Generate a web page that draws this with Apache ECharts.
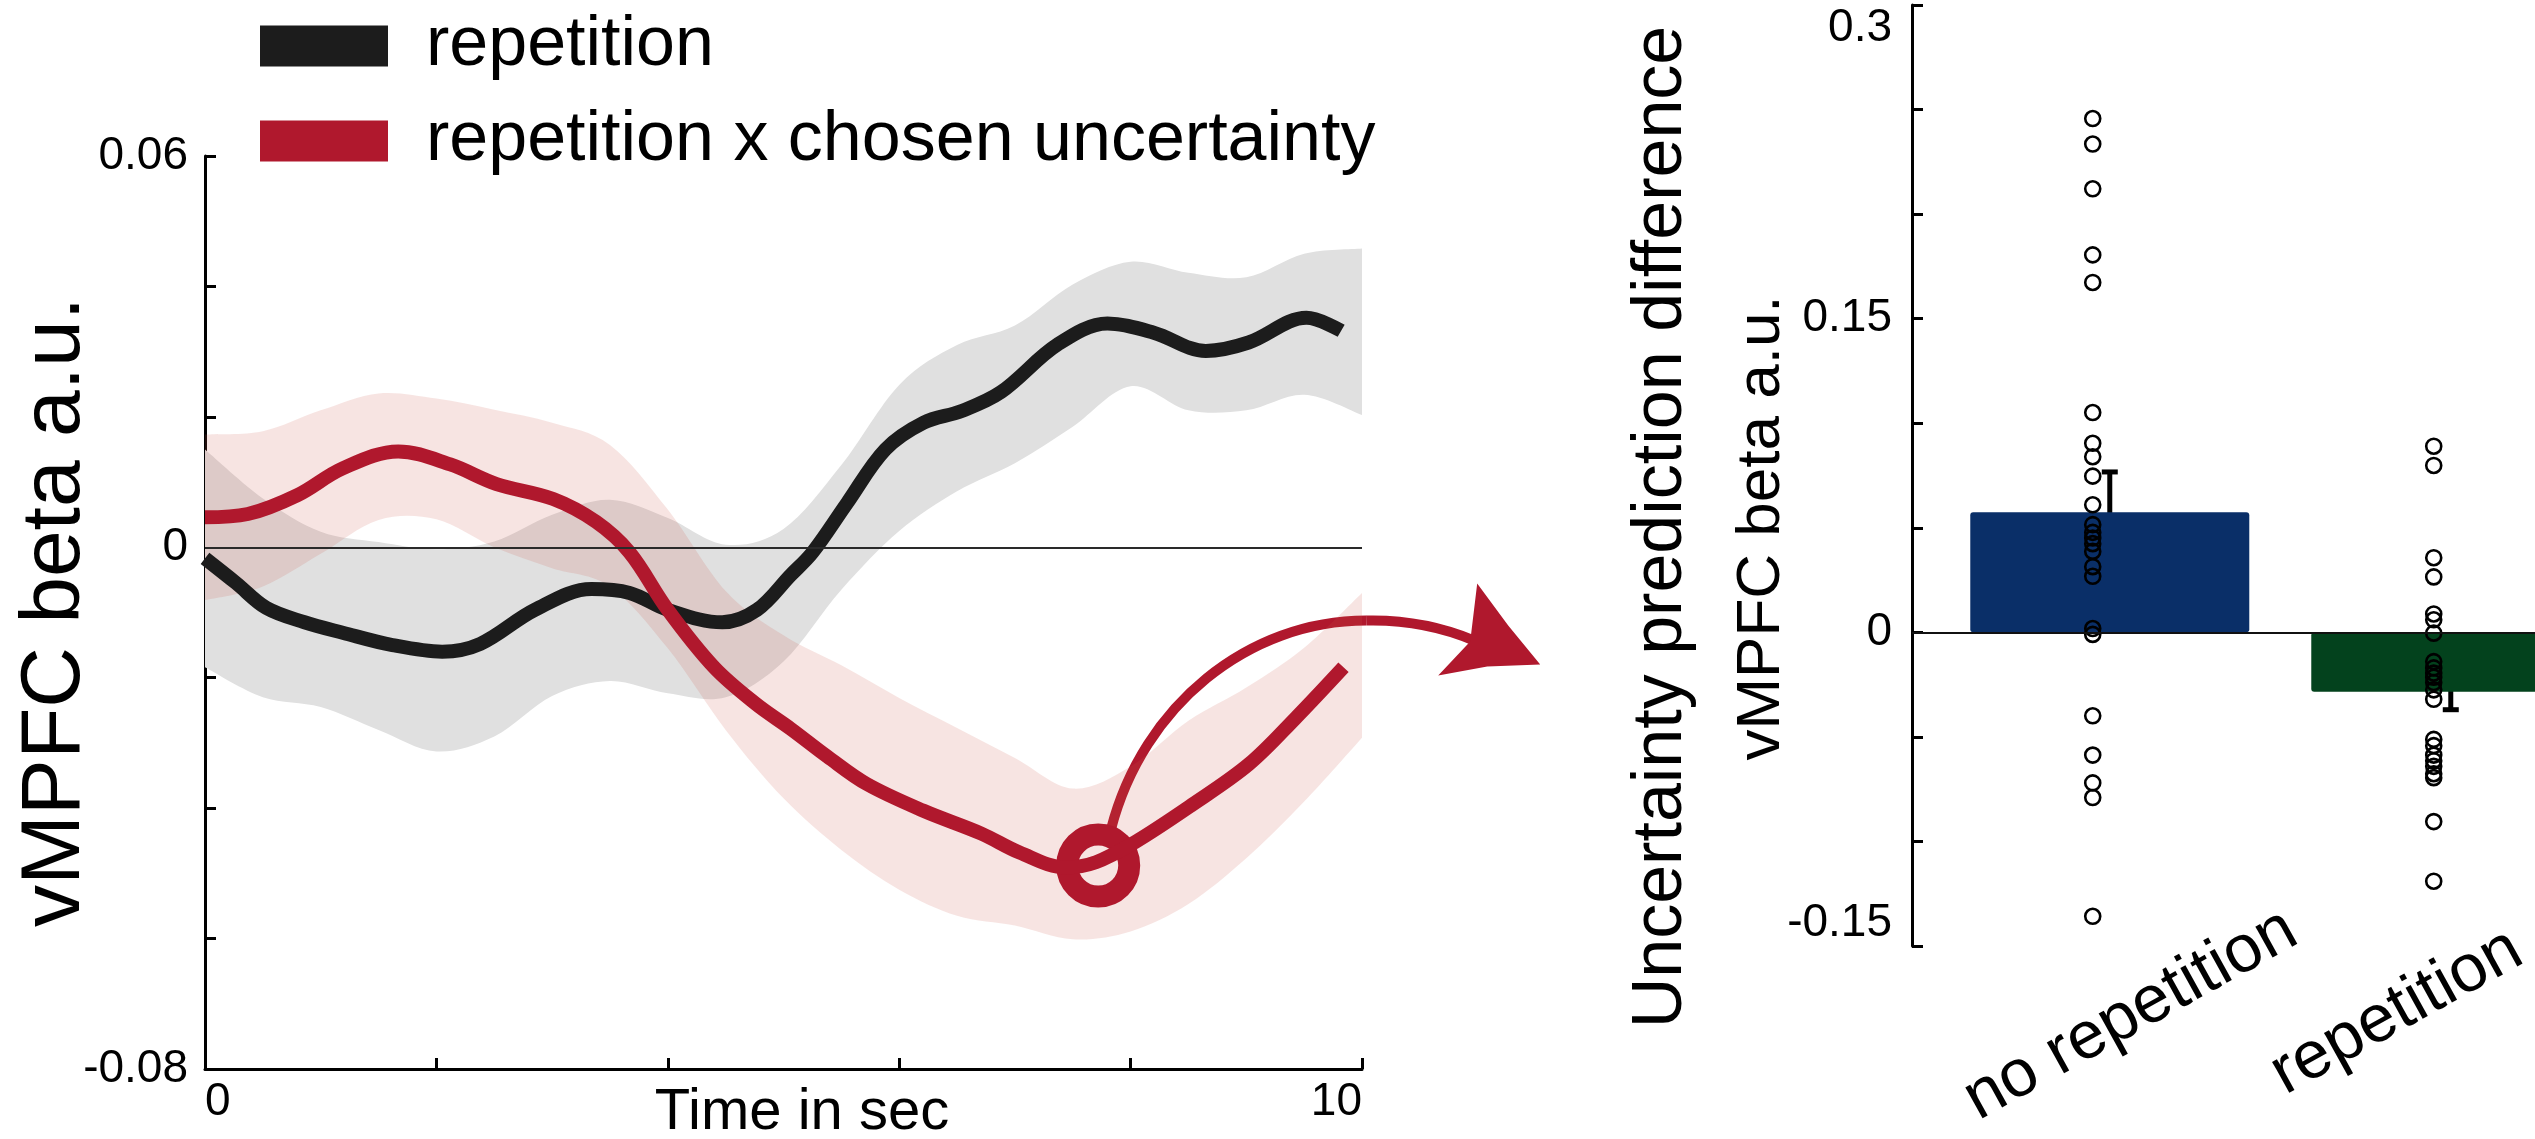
<!DOCTYPE html>
<html><head><meta charset="utf-8">
<script src="https://cdn.jsdelivr.net/npm/echarts@6/dist/echarts.min.js"></script>
<style>html,body{margin:0;padding:0;background:#fff}#c{width:2535px;height:1139px}</style>
</head><body><div id="c"></div>
<script>
// ---------- left panel: time courses ----------
const repTime = [0, 0.27, 0.53, 0.86, 1.19, 1.62, 2.05, 2.38, 2.85, 3.34, 3.67, 4.0, 4.47, 4.77, 5.06, 5.25, 5.55, 5.88, 6.21, 6.54, 6.88, 7.37, 7.8, 8.2, 8.65, 9.02, 9.52, 9.82];
const repMean = [-0.0017, -0.0055, -0.0093, -0.0115, -0.0131, -0.0150, -0.0160, -0.0148, -0.0096, -0.0064, -0.0070, -0.0096, -0.0115, -0.0096, -0.0043, -0.0008, 0.0068, 0.0150, 0.0191, 0.0209, 0.0238, 0.0311, 0.0343, 0.0329, 0.0301, 0.0314, 0.0352, 0.0332];

const uncTime = [0, 0.37, 0.8, 1.19, 1.67, 2.12, 2.52, 3.01, 3.38, 3.67, 4.0, 4.4, 4.76, 5.06, 5.38, 5.72, 6.21, 6.71, 7.04, 7.44, 7.7, 8.03, 8.53, 9.02, 9.42, 9.84];
const uncMean = [0.0046, 0.0051, 0.0080, 0.0121, 0.0147, 0.0127, 0.0097, 0.0074, 0.0039, -0.0008, -0.0096, -0.0184, -0.0240, -0.0278, -0.0321, -0.0363, -0.0404, -0.0439, -0.0468, -0.0491, -0.0483, -0.0453, -0.0395, -0.0333, -0.0263, -0.0184];

const bandTime = [0, 0.5, 1, 1.5, 2, 2.5, 3, 3.5, 4, 4.5, 5, 5.5, 6, 6.5, 7, 7.5, 8, 8.5, 9, 9.5, 10];
const repLow  = [-0.0184, -0.0230, -0.0245, -0.0280, -0.0313, -0.0290, -0.0228, -0.0205, -0.0224, -0.0230, -0.0175, -0.0065, 0.0025, 0.0086, 0.0129, 0.0185, 0.0247, 0.0210, 0.0210, 0.0234, 0.0203];
const repHigh = [0.0150, 0.0075, 0.0024, 0.0008, -0.0003, 0.0009, 0.0050, 0.0073, 0.0045, 0.0004, 0.0028, 0.0126, 0.0249, 0.0310, 0.0340, 0.0403, 0.0438, 0.0421, 0.0414, 0.0450, 0.0458];
const uncLow  = [-0.0081, -0.0060, -0.0010, 0.0042, 0.0043, 0.0000, -0.0032, -0.0060, -0.0155, -0.0280, -0.0385, -0.0464, -0.0525, -0.0565, -0.0580, -0.0601, -0.0589, -0.0547, -0.0477, -0.0390, -0.0292];
const uncHigh = [0.0173, 0.0178, 0.0210, 0.0236, 0.0228, 0.0211, 0.0191, 0.0157, 0.0058, -0.0067, -0.0135, -0.0181, -0.0231, -0.0277, -0.0323, -0.0370, -0.0336, -0.0266, -0.0215, -0.0154, -0.0070];

const markTime = 7.72;
const markValue = -0.0488;

const timeTickValues = [0, 10];
const timeTickLabels = ['0', '10'];
const betaTickValues = [-0.08, 0, 0.06];
const betaTickLabels = ['-0.08', '0', '0.06'];

// ---------- right panel: bars + individual points ----------
const categories = ['no repetition', 'repetition'];
const barMeans = [0.0574, -0.0284];
const errLow  = [0.0359, -0.0370];
const errHigh = [0.0767, -0.0159];
const noRepDots = [0.2457, 0.2335, 0.2121, 0.1805, 0.1673, 0.1051, 0.0904, 0.0840, 0.0747, 0.0610, 0.0515, 0.0478, 0.0451, 0.0424, 0.0387, 0.0314, 0.0268, 0.0018, -0.0010, -0.0399, -0.0587, -0.0720, -0.0790, -0.1358];
const repDots = [0.0890, 0.0798, 0.0357, 0.0265, 0.0088, 0.0060, -0.0004, -0.0140, -0.0170, -0.0195, -0.0215, -0.0240, -0.0275, -0.0320, -0.0512, -0.0542, -0.0587, -0.0614, -0.0641, -0.0676, -0.0695, -0.0905, -0.1190];
const diffTickValues = [-0.15, 0, 0.15, 0.3];
const diffTickLabels = ['-0.15', '0', '0.15', '0.3'];

// ---------- styles ----------
const FONT = "'Liberation Sans', Arial, Helvetica, sans-serif";
const RED = '#b0182d';
const BLACK = '#1c1c1c';
const barColors = ['#0a2f68', '#03421d'];
const dotShift = 0.05;

const near = (a, b) => Math.abs(a - b) < 1e-9;
const pickLabel = (vals, texts) => v => { for (let i = 0; i < vals.length; i++) if (near(v, vals[i])) return texts[i]; return ''; };
const axisLineStyle = { color: '#000', width: 3 };

// smooth path through pixel points (Catmull-Rom -> cubic Bezier)
function smoothSeg(pts) {
  let d = '';
  for (let i = 0; i < pts.length - 1; i++) {
    const p0 = pts[Math.max(i - 1, 0)], p1 = pts[i], p2 = pts[i + 1], p3 = pts[Math.min(i + 2, pts.length - 1)];
    const c1 = [p1[0] + (p2[0] - p0[0]) / 6, p1[1] + (p2[1] - p0[1]) / 6];
    const c2 = [p2[0] - (p3[0] - p1[0]) / 6, p2[1] - (p3[1] - p1[1]) / 6];
    d += ' C' + c1[0] + ',' + c1[1] + ' ' + c2[0] + ',' + c2[1] + ' ' + p2[0] + ',' + p2[1];
  }
  return d;
}

function bandSeries(name, low, high, color) {
  return {
    name: name, type: 'custom', xAxisIndex: 0, yAxisIndex: 0, silent: true,
    data: bandTime.map((t, i) => [t, low[i], high[i]]),
    encode: { x: 0, y: [1, 2] },
    renderItem: (params, api) => {
      if (params.dataIndex !== 0) return null;
      const up = bandTime.map((t, i) => api.coord([t, high[i]]));
      const lo = bandTime.map((t, i) => api.coord([t, low[i]])).reverse();
      const d = 'M' + up[0][0] + ',' + up[0][1] + smoothSeg(up) +
                ' L' + lo[0][0] + ',' + lo[0][1] + smoothSeg(lo) + ' Z';
      return { type: 'path', shape: { pathData: d }, style: { fill: color, stroke: null } };
    }
  };
}

const chart = echarts.init(document.getElementById('c'), null, { renderer: 'canvas' });

const option = {
  animation: false,
  backgroundColor: '#fff',
  textStyle: { fontFamily: FONT },
  legend: {
    data: ['repetition', 'repetition x chosen uncertainty'],
    left: 260, top: 11, padding: 0, orient: 'vertical', icon: 'rect',
    itemWidth: 128, itemHeight: 41, itemGap: 25, selectedMode: false,
    itemStyle: { borderWidth: 0 },
    textStyle: { fontSize: 70, lineHeight: 70, color: '#000', fontFamily: FONT, padding: [0, 0, 0, 33] }
  },
  grid: [
    { left: 205, right: 1173, top: 156, bottom: 70, containLabel: false },
    { left: 1912, right: 0, top: 5, bottom: 193, containLabel: false }
  ],
  xAxis: [
    { gridIndex: 0, type: 'value', min: 0, max: 10, interval: 2,
      axisLine: { show: true, onZero: false, lineStyle: axisLineStyle },
      axisTick: { show: true, inside: true, length: 11, lineStyle: axisLineStyle },
      splitLine: { show: false },
      axisLabel: { show: true, fontSize: 46, color: '#000', fontFamily: FONT, margin: 10,
        formatter: pickLabel(timeTickValues, timeTickLabels), alignMinLabel: 'left', alignMaxLabel: 'right' } },
    { gridIndex: 1, type: 'value', min: 0.42, max: 2.247, show: false,
      axisLine: { show: false }, axisTick: { show: false }, axisLabel: { show: false }, splitLine: { show: false } }
  ],
  yAxis: [
    { gridIndex: 0, type: 'value', min: -0.08, max: 0.06, interval: 0.02,
      axisLine: { show: true, onZero: false, lineStyle: axisLineStyle },
      axisTick: { show: true, inside: true, length: 11, lineStyle: axisLineStyle },
      splitLine: { show: false },
      axisLabel: { show: true, fontSize: 46, color: '#000', fontFamily: FONT, margin: 17,
        formatter: pickLabel(betaTickValues, betaTickLabels) } },
    { gridIndex: 1, type: 'value', min: -0.15, max: 0.3, interval: 0.05,
      axisLine: { show: true, onZero: false, lineStyle: axisLineStyle },
      axisTick: { show: true, inside: true, length: 11, lineStyle: axisLineStyle },
      splitLine: { show: false },
      axisLabel: { show: true, fontSize: 46, color: '#000', fontFamily: FONT, margin: 20,
        formatter: pickLabel(diffTickValues, diffTickLabels),
        verticalAlignMaxLabel: 'top', verticalAlignMinLabel: 'bottom' } }
  ],
  series: [
    bandSeries('repBand', repLow, repHigh, '#e0e0e0'),
    { name: 'repetition', type: 'line', xAxisIndex: 0, yAxisIndex: 0,
      data: repTime.map((t, i) => [t, repMean[i]]), symbol: 'none', smooth: 0.35,
      color: BLACK, itemStyle: { color: BLACK }, lineStyle: { color: BLACK, width: 14, cap: 'butt' },
      markLine: { silent: true, symbol: ['none', 'none'], label: { show: false },
        lineStyle: { color: '#2a2a2a', width: 2, type: 'solid' }, data: [{ yAxis: 0 }] } },
    bandSeries('uncBand', uncLow, uncHigh, 'rgba(205,86,74,0.16)'),
    { name: 'repetition x chosen uncertainty', type: 'line', xAxisIndex: 0, yAxisIndex: 0,
      data: uncTime.map((t, i) => [t, uncMean[i]]), symbol: 'none', smooth: 0.35,
      color: RED, itemStyle: { color: RED }, lineStyle: { color: RED, width: 14, cap: 'butt' } },
    { name: 'mark', type: 'scatter', xAxisIndex: 0, yAxisIndex: 0, data: [[markTime, markValue]],
      symbol: 'circle', symbolSize: 62, silent: true,
      itemStyle: { color: 'rgba(0,0,0,0)', borderColor: RED, borderWidth: 22, opacity: 1 } },
    { name: 'bars', type: 'bar', xAxisIndex: 1, yAxisIndex: 1, barWidth: 279,
      data: categories.map((c, i) => ({ value: [i + 1, barMeans[i]], itemStyle: { color: barColors[i], borderRadius: 3 } })),
      markLine: { silent: true, symbol: ['none', 'none'], label: { show: false },
        lineStyle: { color: '#111', width: 2, type: 'solid' }, data: [{ yAxis: 0 }] } },
    { name: 'dots', type: 'scatter', xAxisIndex: 1, yAxisIndex: 1, symbol: 'circle', symbolSize: 15, silent: true,
      data: noRepDots.map(v => [1 - dotShift, v]).concat(repDots.map(v => [2 - dotShift, v])),
      itemStyle: { color: 'rgba(0,0,0,0)', borderColor: '#000', borderWidth: 2.6, opacity: 1 } },
    { name: 'err', type: 'custom', xAxisIndex: 1, yAxisIndex: 1, silent: true,
      data: categories.map((c, i) => [i + 1, errLow[i], errHigh[i]]),
      encode: { x: 0, y: [1, 2] },
      renderItem: (params, api) => {
        const x = api.value(0);
        const lo = api.coord([x, api.value(1)]);
        const hi = api.coord([x, api.value(2)]);
        const w = 8, st = { stroke: '#000', lineWidth: 5 };
        return { type: 'group', children: [
          { type: 'line', shape: { x1: lo[0], y1: lo[1], x2: hi[0], y2: hi[1] }, style: st },
          { type: 'line', shape: { x1: lo[0] - w, y1: lo[1], x2: lo[0] + w, y2: lo[1] }, style: st },
          { type: 'line', shape: { x1: hi[0] - w, y1: hi[1], x2: hi[0] + w, y2: hi[1] }, style: st }
        ] };
      } }
  ]
};
chart.setOption(option);

// ---------- titles, category labels and the arrow ----------
const ring = chart.convertToPixel({ xAxisIndex: 0, yAxisIndex: 0 }, [markTime, markValue]);
const cat1 = chart.convertToPixel({ xAxisIndex: 1, yAxisIndex: 1 }, [1, -0.15]);
const cat2 = chart.convertToPixel({ xAxisIndex: 1, yAxisIndex: 1 }, [2, -0.15]);
const txt = (text, x, y, size, rot) => ({ type: 'text', x: x, y: y, rotation: rot || 0, silent: true,
  style: { text: text, fontSize: size, fontFamily: FONT, fill: '#000', align: 'center', verticalAlign: 'middle' } });

chart.setOption({ graphic: [
  txt('vMPFC beta a.u.', 56, 612, 84, Math.PI / 2),
  txt('Time in sec', 802, 1113, 58),
  txt('Uncertainty prediction difference', 1662, 527, 70, Math.PI / 2),
  txt('vMPFC beta a.u.', 1762, 528, 62, Math.PI / 2),
  txt(categories[0], cat1[0] + 21, cat1[1] + 69, 67, 29 * Math.PI / 180),
  txt(categories[1], cat2[0] - 54, cat2[1] + 66, 67, 29 * Math.PI / 180),
  { type: 'bezierCurve', x: ring[0], y: ring[1], silent: true,
    shape: { x1: 13, y1: -37, cpx1: 45, cpy1: -160, cpx2: 150, cpy2: -245, x2: 268, y2: -245 },
    style: { fill: null, stroke: RED, lineWidth: 10 } },
  { type: 'bezierCurve', x: ring[0], y: ring[1], silent: true,
    shape: { x1: 268, y1: -245, cpx1: 310, cpy1: -246, cpx2: 345, cpy2: -238, x2: 376, y2: -225 },
    style: { fill: null, stroke: RED, lineWidth: 10 } },
  { type: 'polygon', x: ring[0], y: ring[1], silent: true,
    shape: { points: [[442, -201], [410, -240], [379, -282], [372, -224], [340, -190], [389, -199]] },
    style: { fill: RED, stroke: null } }
] });
</script>
</body></html>
